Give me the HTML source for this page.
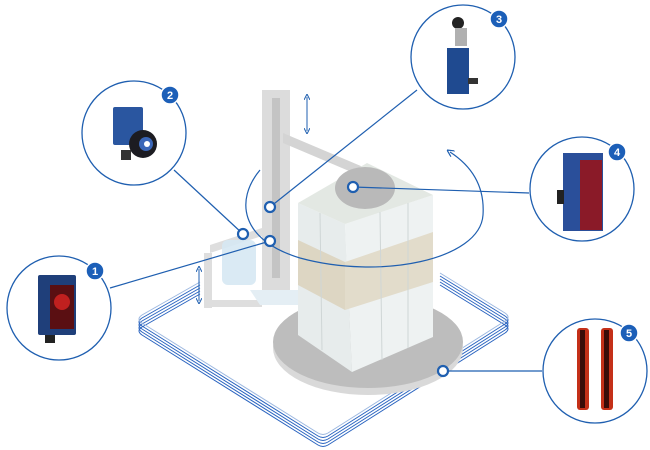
<!DOCTYPE html>
<html><head><meta charset="utf-8"><style>
html,body{margin:0;padding:0;background:#fff;width:650px;height:450px;overflow:hidden}
text{font-family:"Liberation Sans",sans-serif;font-weight:bold}
</style></head><body>
<svg width="650" height="450" viewBox="0 0 650 450" xmlns="http://www.w3.org/2000/svg">
<defs>
<marker id="ah" markerWidth="6" markerHeight="6" refX="3" refY="3" orient="auto"><path d="M0,0 L6,3 L0,6" fill="none" stroke="#1f5fb0" stroke-width="1"/></marker>
<marker id="ahs" markerWidth="6" markerHeight="6" refX="3" refY="3" orient="auto-start-reverse"><path d="M0,0 L6,3 L0,6" fill="none" stroke="#1f5fb0" stroke-width="1"/></marker>
</defs>
<!-- floor rings -->
<g fill="none" stroke="#2a64c0" stroke-width="1">
<path d="M200,285 L142,318 Q136,322 142,326 L318,436 Q323,439 328,436 L505,324 Q511,320 505,316 L440,276"/>
<path d="M200,288 L142,321 Q136,325 142,329 L318,439 Q323,442 328,439 L505,327 Q511,323 505,319 L440,279"/>
<path d="M200,291 L142,324 Q136,328 142,332 L318,442 Q323,445 328,442 L505,330 Q511,326 505,322 L440,282"/>
<path d="M200,294 L142,327 Q136,331 142,335 L318,445 Q323,448 328,445 L505,333 Q511,329 505,325 L440,285"/>
<path d="M200,282 L142,315 Q136,319 142,323 L318,433 Q323,436 328,433 L505,321 Q511,317 505,313 L440,273" stroke="#9db8e0"/>
</g>
<!-- turntable -->
<ellipse cx="368" cy="348" rx="95" ry="47" fill="#d9d9d9"/>
<ellipse cx="368" cy="342" rx="95" ry="46" fill="#bdbdbd"/>
<!-- mast -->
<rect x="262" y="90" width="28" height="200" fill="#dcdcdc"/>
<rect x="272" y="98" width="8" height="180" fill="#c4c4c4"/>
<polygon points="283,133 375,172 375,182 283,143" fill="#d4d4d4"/>
<!-- gripper -->
<polygon points="210,245 262,228 262,236 210,253" fill="#dedede"/>
<rect x="204" y="253" width="8" height="55" fill="#dedede"/>
<rect x="204" y="300" width="58" height="7" fill="#dedede"/>
<rect x="222" y="240" width="34" height="45" rx="6" fill="#d6e8f3" opacity="0.9"/>
<polygon points="250,290 300,290 300,305 260,305" fill="#e4eef4"/>
<!-- box -->
<polygon points="298,203 345,224 352,372 298,335" fill="#e7ecec"/>
<polygon points="345,224 433,195 433,337 352,372" fill="#eef2f2"/>
<polygon points="298,240 345,262 345,310 298,285" fill="#ddd6c3"/>
<polygon points="345,262 433,232 433,282 345,310" fill="#e2dccb"/>
<polygon points="298,203 367,163 433,195 345,224" fill="#e3e8e3"/>
<g stroke="#cfd6d6" stroke-width="1">
<line x1="320" y1="213" x2="322" y2="350"/><line x1="380" y1="212" x2="382" y2="360"/><line x1="408" y1="203" x2="408" y2="348"/>
</g>
<ellipse cx="365" cy="188" rx="30" ry="21" fill="#b9b9b9"/>
<!-- loop -->
<path d="M260,170 C235,200 240,240 300,258 C380,280 480,260 483,215 C485,185 470,165 450,152" fill="none" stroke="#1f5fb0" stroke-width="1.2" marker-end="url(#ah)"/>
<!-- double arrows -->
<line x1="307" y1="97" x2="307" y2="131" stroke="#1f5fb0" stroke-width="1" marker-start="url(#ahs)" marker-end="url(#ah)"/>
<line x1="199" y1="269" x2="199" y2="301" stroke="#1f5fb0" stroke-width="1" marker-start="url(#ahs)" marker-end="url(#ah)"/>
<!-- leader lines -->
<g stroke="#1f5fb0" stroke-width="1.2" fill="none">
<line x1="270" y1="207" x2="417" y2="90"/>
<line x1="243" y1="234" x2="174" y2="170"/>
<line x1="270" y1="241" x2="110" y2="288"/>
<line x1="353" y1="187" x2="529" y2="193"/>
<line x1="443" y1="371" x2="542" y2="371"/>
</g>
<g fill="#fff" stroke="#1f5fb0" stroke-width="2.2">
<circle cx="270" cy="207" r="5"/><circle cx="243" cy="234" r="5"/><circle cx="270" cy="241" r="5"/><circle cx="353" cy="187" r="5"/><circle cx="443" cy="371" r="5"/>
</g>
<!-- callout circles -->
<g fill="#fff" stroke="#1f5fb0" stroke-width="1.3">
<circle cx="59" cy="308" r="52"/><circle cx="134" cy="133" r="52"/><circle cx="463" cy="57" r="52"/><circle cx="582" cy="189" r="52"/><circle cx="595" cy="371" r="52"/>
</g>
<!-- products -->
<rect x="38" y="275" width="38" height="60" rx="2" fill="#1f3f7a"/>
<rect x="50" y="285" width="24" height="44" fill="#5a0f12"/>
<circle cx="62" cy="302" r="8" fill="#c0201f"/>
<rect x="45" y="335" width="10" height="8" fill="#222"/>
<rect x="113" y="107" width="30" height="38" rx="2" fill="#2a56a0"/>
<circle cx="143" cy="144" r="14" fill="#1c1c22"/><circle cx="146" cy="144" r="7" fill="#3a66b8"/><circle cx="147" cy="144" r="3" fill="#fff"/>
<rect x="121" y="150" width="10" height="10" fill="#333"/>
<circle cx="458" cy="23" r="6" fill="#222"/>
<rect x="455" y="28" width="12" height="18" fill="#b0b0b0"/>
<rect x="447" y="48" width="22" height="46" fill="#1f4a90"/>
<rect x="468" y="78" width="10" height="6" fill="#333"/>
<rect x="563" y="153" width="40" height="78" fill="#2a4f9a"/>
<rect x="580" y="160" width="22" height="70" fill="#8a1a28"/>
<rect x="557" y="190" width="7" height="14" fill="#222"/>
<rect x="577" y="328" width="12" height="82" rx="3" fill="#c43018"/>
<rect x="580" y="330" width="5" height="78" fill="#3a0c08"/>
<rect x="601" y="328" width="12" height="82" rx="3" fill="#c43018"/>
<rect x="604" y="330" width="5" height="78" fill="#3a0c08"/>
<!-- badges -->
<g fill="#1c5fb8" stroke="#fff" stroke-width="1.5">
<circle cx="95" cy="271" r="9"/><circle cx="170" cy="95" r="9"/><circle cx="499" cy="19" r="9"/><circle cx="617" cy="152" r="9"/><circle cx="629" cy="333" r="9"/>
</g>
<g fill="#fff" font-size="11" text-anchor="middle">
<text x="95" y="275">1</text><text x="170" y="99">2</text><text x="499" y="23">3</text><text x="617" y="156">4</text><text x="629" y="337">5</text>
</g>
</svg>
</body></html>
